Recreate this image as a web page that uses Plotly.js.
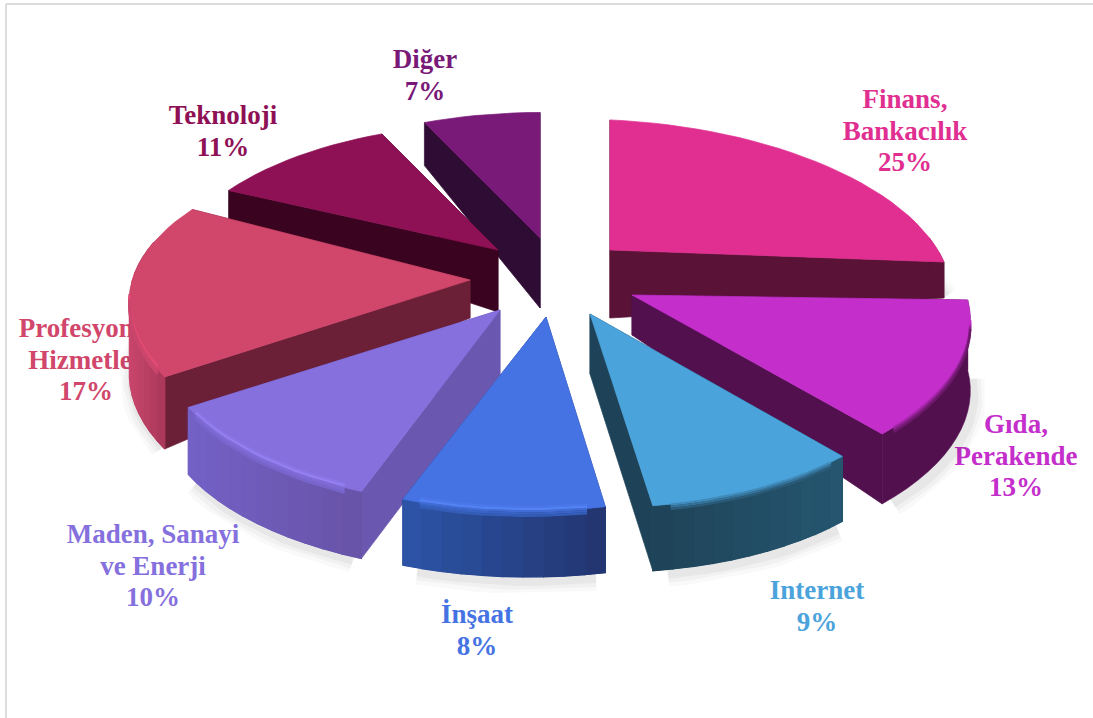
<!DOCTYPE html>
<html><head><meta charset="utf-8">
<script src="https://cdn.plot.ly/plotly-3.0.1.min.js"></script>
<style>html,body{margin:0;padding:0;background:#fff}#c{width:1093px;height:718px}</style></head>
<body><div id="c"></div>
<script>
// ---- chart data ----
const categories = ["Finans,<br>Bankacılık","Gıda,<br>Perakende","Internet","İnşaat","Maden, Sanayi<br>ve Enerji","Profesyonel<br>Hizmetler","Teknoloji","Diğer"];
const shares = [25,13,9,8,10,17,11,7];
const labelColors = ["#E02F91","#C42ECB","#4BA3DB","#4673E3","#8570DE","#D1466B","#8E1055","#7A1A78"];
// ---- drawing settings ----
const labelX = [905,1016,817,477,153,86,223,425];
const labelY = [133,458,608,632,568,362,133,77];
const hub = [540,272];
const explodeX = [70,92,50,6,-40,-70,-42,0];
const explodeY = [-22,23,42,45,38,8,-22,-34];
const skewX = [0,-28,-14,-18,-12,4,6,0];
const tiltY = [12,5,16,0,8,10,0,0];
const sizeF = [1,1.005,0.975,0.98,0.99,1,0.97,0.965];
const depthHub = [68,40,60,68,65,38,62,70];
const depthRim = [36,70,65,66,67,72,33,43];
const bevelOn = [false,true,true,true,true,true,false,false];
const radialWall = ["#5A1236","#52104F","#1E4359","#24408C","#6A58B0","#6B2038","#3A0420","#2F0C33"];
const rimWallLeft = ["#5A1236","#52104F","#1F4358","#2C55A8","#7461C6","#C9466C","#3A0420","#2F0C33"];
const rimWallRight = ["#5A1236","#52104F","#255670","#22346F","#6753A6","#A8375A","#3A0420","#2F0C33"];
const rimGlow = ["#E02F91","#C42ECB","#4BA3DB","#5B8CFF","#A08CFF","#F5507F","#8E1055","#7A1A78"];
const R=334, RT=157, K=0.207;
const FONT='"Liberation Serif","DejaVu Serif",serif', FSIZE=27, LEAD=31.5;

const hex=c=>[1,3,5].map(i=>parseInt(c.substr(i,2),16));
const mix=(a,b,t)=>{const A=hex(a),B=hex(b);return 'rgb('+A.map((v,i)=>Math.round(v+(B[i]-v)*t)).join(',')+')';};
const total=shares.reduce((a,b)=>a+b,0);

function makeSlice(i,start,end){
  const ax=hub[0]+explodeX[i], ay=hub[1]+explodeY[i], f=sizeF[i];
  const pt=(th,r)=>{const u=Math.sin(th)*r,v=-Math.cos(th)*r,s=1/(1-K*v);
    return [ax+f*R*u*s+skewX[i]*Math.max(v,0), ay+f*RT*v*s+tiltY[i]*u];};
  const dep=r=>depthHub[i]+(depthRim[i]-depthHub[i])*r;
  return {pt,dep,ax,ay,start,end};
}
const traces=[];
const poly=(xs,ys,fill,lw)=>traces.push({type:'scatter',mode:'lines',x:xs,y:ys,fill:'toself',fillcolor:fill,
  line:{color:fill,width:lw===undefined?0.7:lw},hoverinfo:'skip',showlegend:false});
const line=(xs,ys,color,width)=>traces.push({type:'scatter',mode:'lines',x:xs,y:ys,
  line:{color:color,width:width},hoverinfo:'skip',showlegend:false});

// labels go first so that the slices can overlap them; one text per line for exact leading
categories.forEach((c,i)=>{
  const rows=[...c.split('<br>'),shares[i]+'%'];
  const xs=rows.map(()=>labelX[i]);
  const ys=rows.map((_,k)=>labelY[i]+(k-(rows.length-1)/2)*LEAD);
  traces.push({type:'scatter',mode:'text',x:xs,y:ys,text:rows,textposition:'middle center',
    textfont:{family:FONT,size:FSIZE,color:labelColors[i],weight:700},hoverinfo:'skip',showlegend:false});
});

let cum=0;
const slices=shares.map((v,i)=>{const a=cum/total*2*Math.PI;cum+=v;return makeSlice(i,a,cum/total*2*Math.PI);});
const STEP=Math.PI/60;
const angles=(s,m)=>{m=m||0;const a=s.start+m,b=s.end-m,n=Math.max(2,Math.ceil((b-a)/STEP));return Array.from({length:n+1},(_,k)=>a+(b-a)*k/n);};

// soft ground shadow
[[26,0.025],[18,0.03],[10,0.04]].forEach(([w,o])=>{
  slices.forEach(s=>{
    const th=angles(s,0.03).filter(t=>-Math.cos(t)>-0.25);
    if(th.length<2)return;
    const P=th.map(t=>{const p=s.pt(t,1);return [p[0]+3,p[1]+s.dep(1)+4];});
    line(P.map(p=>p[0]),P.map(p=>p[1]),`rgba(0,0,0,${o})`,w);
  });
});

// back to front
const order=[7,0,6,1,5,2,4,3];
order.forEach(i=>{
  const s=slices[i], d0=s.dep(0), d1=s.dep(1);
  const a=s.pt(s.start,1), b=s.pt(s.end,1);
  poly([s.ax,a[0],a[0],s.ax,s.ax],[s.ay,a[1],a[1]+d1,s.ay+d0,s.ay],radialWall[i]);
  poly([s.ax,b[0],b[0],s.ax,s.ax],[s.ay,b[1],b[1]+d1,s.ay+d0,s.ay],radialWall[i]);
  const th=angles(s);
  const front=th.filter(t=>-Math.cos(t)>-0.2);
  if(front.length>1){
    const F=front.map(t=>s.pt(t,1));
    poly([...F.map(p=>p[0]),...F.slice().reverse().map(p=>p[0]),F[0][0]],
         [...F.map(p=>p[1]),...F.slice().reverse().map(p=>p[1]+d1),F[0][1]],
         mix(rimWallLeft[i],rimWallRight[i],0.5),0.5);
    if(rimWallLeft[i]!==rimWallRight[i]){
      const xMin=Math.min(...F.map(p=>p[0])), xMax=Math.max(...F.map(p=>p[0]));
      for(let k=0;k<F.length-1;k++){
        const p=F[k],q=F[k+1];
        const f=(((p[0]+q[0])/2)-xMin)/Math.max(1,xMax-xMin);
        poly([p[0],q[0],q[0],p[0],p[0]],[p[1],q[1],q[1]+d1,p[1]+d1,p[1]],mix(rimWallLeft[i],rimWallRight[i],f),1.2);
      }
    }
  }
  // top face
  const top=th.map(t=>s.pt(t,1));
  poly([s.ax,...top.map(p=>p[0]),s.ax],[s.ay,...top.map(p=>p[1]),s.ay],labelColors[i]);
  // rounded bevel along the rim
  if(bevelOn[i]){
    const vis=angles(s,0.045).filter(t=>-Math.cos(t)>0.12);
    const P=vis.map(t=>s.pt(t,1));
    for(let j=0;j<5;j++){
      const tone=j<2?mix(rimGlow[i],labelColors[i],0.4*(2-j)):mix(labelColors[i],rimWallLeft[i],(j-1)/4);
      line(P.map(p=>p[0]),P.map(p=>p[1]-4+j*2.2),tone,2.4);
    }
  }
});

const layout={width:1093,height:718,margin:{l:0,r:0,t:0,b:0},paper_bgcolor:'#fff',plot_bgcolor:'#fff',showlegend:false,
  xaxis:{range:[0,1093],visible:false,fixedrange:true},
  yaxis:{range:[718,0],visible:false,fixedrange:true},
  shapes:[
    {type:'line',xref:'x',yref:'y',x0:6,x1:6,y0:4,y1:718,line:{color:'#dddddd',width:2}},
    {type:'line',xref:'x',yref:'y',x0:6,x1:1093,y0:4,y1:4,line:{color:'#dddddd',width:2}}
  ]};
Plotly.newPlot('c',traces,layout,{staticPlot:true,displayModeBar:false});
</script></body></html>
